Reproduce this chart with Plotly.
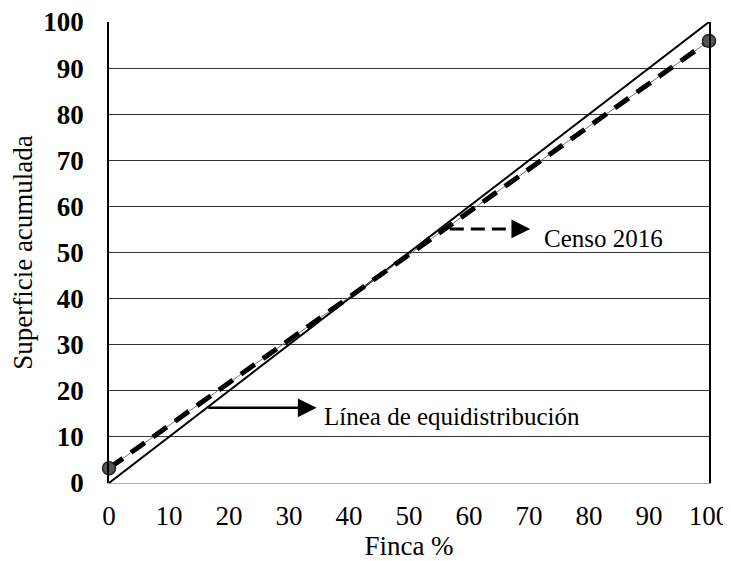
import plotly.graph_objects as go

# Data
equi_x = [0, 100]
equi_y = [0, 100]
censo_x = [0, 100]
censo_y = [3.2, 95.9]
tick_vals = [0, 10, 20, 30, 40, 50, 60, 70, 80, 90, 100]
tick_text = [str(v) for v in tick_vals]

FONT = "Liberation Serif"

fig = go.Figure()
# equidistribution line
fig.add_trace(go.Scatter(x=equi_x, y=equi_y, mode="lines",
                         line=dict(color="black", width=2), showlegend=False,
                         cliponaxis=False))
# thin underlying line for census
fig.add_trace(go.Scatter(x=censo_x, y=censo_y, mode="lines",
                         line=dict(color="#777", width=1), showlegend=False,
                         cliponaxis=False))
# dashed census line with markers
fig.add_trace(go.Scatter(x=censo_x, y=censo_y, mode="lines+markers",
                         line=dict(color="black", width=5, dash="17px,10px"),
                         marker=dict(size=13, color="#555", line=dict(color="#222", width=1.5)),
                         showlegend=False, cliponaxis=False))

# dashed arrow for Censo 2016
fig.add_shape(type="line", x0=56.8, x1=67.4, y0=55.1, y1=55.1, xref="x", yref="y",
              line=dict(color="black", width=3, dash="14px,7px"))
fig.add_annotation(x=70.2, y=55.1, ax=67.0, ay=55.1, axref="x", ayref="y",
                   xref="x", yref="y", text="", showarrow=True,
                   arrowhead=2, arrowsize=1.5, arrowwidth=2.5, arrowcolor="black")
fig.add_annotation(x=72.2, y=53.0, xref="x", yref="y", text="Censo 2016",
                   showarrow=False, xanchor="left", yanchor="middle",
                   font=dict(family=FONT, size=25, color="black"))

# solid arrow for equidistribution
fig.add_annotation(x=34.6, y=16.3, ax=16.3, ay=16.3, axref="x", ayref="y",
                   xref="x", yref="y", text="", showarrow=True,
                   arrowhead=2, arrowsize=1.5, arrowwidth=2.5, arrowcolor="black")
fig.add_annotation(x=35.5, y=14.5, xref="x", yref="y", text="Línea de equidistribución",
                   showarrow=False, xanchor="left", yanchor="middle",
                   font=dict(family=FONT, size=25, color="black"))

# page body has an 8px default margin, so size/margins account for it
fig.update_layout(
    width=723, height=553,
    margin=dict(l=101, r=22, t=14, b=78, autoexpand=False),
    paper_bgcolor="white", plot_bgcolor="white",
    font=dict(family=FONT, color="black"),
    xaxis=dict(range=[0, 100], tickvals=tick_vals, ticktext=tick_text,
               automargin=False, ticklabeloverflow="allow",
               showgrid=False, zeroline=False, showline=True, linecolor="#aaa",
               linewidth=1, ticks="outside", ticklen=9, tickcolor="rgba(0,0,0,0)",
               tickfont=dict(family=FONT, size=27, color="black"),
               title=dict(text="Finca %", font=dict(family=FONT, size=27, color="black"),
                          standoff=4)),
    yaxis=dict(range=[0, 100], tickvals=tick_vals, ticktext=tick_text,
               automargin=False, ticklabeloverflow="allow",
               showgrid=True, gridcolor="#333", gridwidth=1, zeroline=False,
               showline=True, linecolor="black", linewidth=1.5, mirror=True,
               ticks="outside", ticklen=18, tickcolor="rgba(0,0,0,0)",
               tickfont=dict(family=FONT, size=27, color="black", weight="bold"),
               title=dict(text="Superficie acumulada",
                          font=dict(family=FONT, size=27, color="black"), standoff=19)),
)

fig.write_html("out.html")
